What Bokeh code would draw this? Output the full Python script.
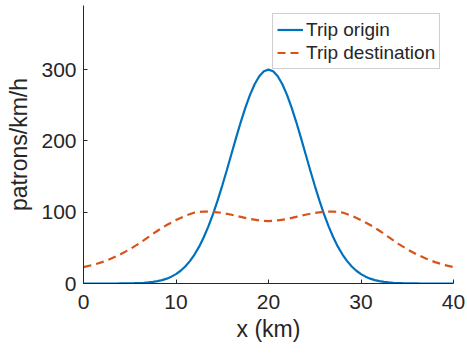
from bokeh.plotting import figure
from bokeh.models import Range1d, Legend, LegendItem, FixedTicker
from bokeh.embed import file_html
from bokeh.resources import INLINE

# Data
x_origin = [i * 0.5 for i in range(81)]
trip_origin = [0, 0, 0, 0, 0, 0, 0, 0, 0.1, 0.2,
               0.3, 0.4, 0.7, 1.0, 1.5, 2.3, 3.3, 4.8, 6.8, 9.6,
               13.2, 17.9, 23.9, 31.4, 40.6, 51.7, 64.9, 80.1, 97.4, 116.6,
               137.4, 159.3, 182.0, 204.6, 226.5, 246.8, 264.7, 279.6, 290.8, 297.7,
               300.0,
               297.7, 290.8, 279.6, 264.7, 246.8, 226.5, 204.6, 182.0, 159.3, 137.4,
               116.6, 97.4, 80.1, 64.9, 51.7, 40.6, 31.4, 23.9, 17.9, 13.2,
               9.6, 6.8, 4.8, 3.3, 2.3, 1.5, 1.0, 0.7, 0.4, 0.3,
               0.2, 0.1, 0, 0, 0, 0, 0, 0, 0, 0]
x_dest = list(range(41))
trip_destination = [23, 26, 30, 35, 41, 48, 56, 65, 74, 82, 89, 95, 99.5, 101, 100.5,
                    99, 96.5, 93.5, 90.5, 88.5, 87.5, 88.5, 90.5, 93.5, 96.5, 99, 100.5,
                    101, 99.5, 95, 89, 82, 74, 65, 56, 48, 41, 35, 30, 26, 23]
x_ticks = [0, 10, 20, 30, 40]
y_ticks = [0, 100, 200, 300]

FONT = "Liberation Sans"
TXT = "#262626"

p = figure(width=467, height=353, output_backend="svg", toolbar_location=None,
           x_range=Range1d(0, 40), y_range=Range1d(0, 390),
           min_border_left=83, min_border_right=14, min_border_top=5, min_border_bottom=70)
p.outline_line_color = None
p.xgrid.visible = False
p.ygrid.visible = False
p.background_fill_color = "white"
p.border_fill_color = "white"

r1 = p.line(x_origin, trip_origin, line_color="#0072BD", line_width=2.2)
r2 = p.line(x_dest, trip_destination, line_color="#D95319", line_width=2.2, line_dash="8 5")

for ax, ticks in ((p.xaxis[0], x_ticks), (p.yaxis[0], y_ticks)):
    ax.ticker = FixedTicker(ticks=ticks)
    ax.major_tick_in = 4
    ax.major_tick_out = 0
    ax.minor_tick_line_color = None
    ax.axis_line_color = TXT
    ax.major_tick_line_color = TXT
    ax.major_label_text_font = FONT
    ax.major_label_text_font_size = "21px"
    ax.major_label_text_color = TXT
    ax.axis_label_text_font = FONT
    ax.axis_label_text_font_size = "23px"
    ax.axis_label_text_color = TXT
    ax.axis_label_text_font_style = "normal"

p.xaxis.major_label_standoff = 11
p.yaxis.major_label_standoff = 7
p.xaxis.axis_label = "x (km)"
p.yaxis.axis_label = "patrons/km/h"
p.xaxis.axis_label_standoff = 4
p.yaxis.axis_label_standoff = 6

legend = Legend(items=[LegendItem(label="Trip origin", renderers=[r1]),
                       LegendItem(label="Trip destination", renderers=[r2])],
                location=(189, 214))
legend.label_text_font = FONT
legend.label_text_font_size = "19px"
legend.label_text_color = TXT
legend.glyph_width = 26
legend.glyph_height = 23
legend.label_height = 23
legend.label_standoff = 3
legend.padding = 4
legend.spacing = 0
legend.margin = 0
legend.border_line_color = "#a0a0a0"
legend.border_line_width = 1
legend.background_fill_alpha = 1
p.add_layout(legend, "center")

open("out.html", "w").write(file_html(p, INLINE))
